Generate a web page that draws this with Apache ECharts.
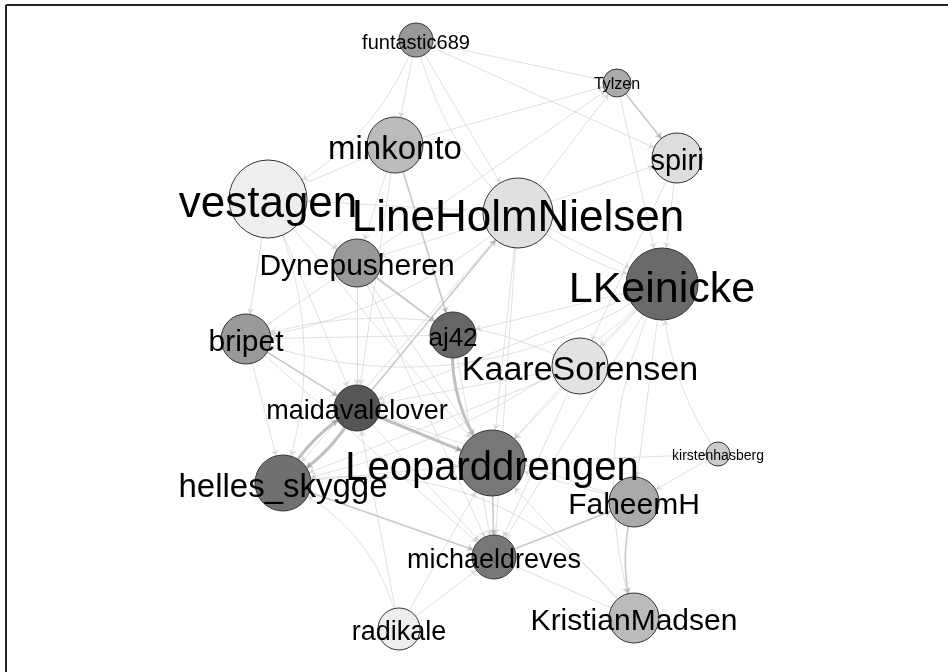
<!DOCTYPE html>
<html>
<head>
<meta charset="utf-8">
<script src="https://cdn.jsdelivr.net/npm/echarts@6/dist/echarts.min.js"></script>
<style>
  html, body { margin: 0; padding: 0; background: #fff; }
  #chartdiv { width: 948px; height: 672px; }
</style>
</head>
<body>
<div id="chartdiv"></div>
<script>
// node table: position in the layout, degree (size) and tone (0 light .. 1 dark)
var nodeNames = ['funtastic689', 'Tylzen', 'minkonto', 'spiri', 'vestagen', 'LineHolmNielsen',
    'Dynepusheren', 'LKeinicke', 'bripet', 'aj42', 'KaareSorensen', 'maidavalelover',
    'Leoparddrengen', 'helles_skygge', 'kirstenhasberg', 'FaheemH', 'michaeldreves',
    'radikale', 'KristianMadsen'];
var nodeX = [416, 617, 395, 677, 268, 518, 357, 662, 246, 453, 580, 357, 492, 283, 718, 634, 494, 399, 634];
var nodeY = [40, 83, 145, 158, 199, 213, 263, 284, 339, 335, 366, 408, 463, 483, 454, 502, 557, 629, 618];
var nodeDegree = [17, 14, 28, 25, 39, 35, 24, 36, 25, 23, 28, 23, 33, 28, 12, 25, 22, 21, 25];
var nodeTone = [0.46, 0.375, 0.29, 0.12, 0.035, 0.105, 0.46, 0.695, 0.46, 0.715, 0.095, 0.8, 0.63, 0.665, 0.205, 0.375, 0.63, 0.035, 0.29];
var labelSize = [20, 16, 33, 29, 44, 44, 30, 43, 30, 26, 34, 27, 40, 33, 14, 30, 27, 27, 30];

// edges: [source, target, weight]
var edges = [
    ['maidavalelover', 'helles_skygge', 3],
    ['helles_skygge', 'maidavalelover', 3],
    ['maidavalelover', 'Leoparddrengen', 3],
    ['aj42', 'Leoparddrengen', 3],
    ['Dynepusheren', 'aj42', 2],
    ['minkonto', 'aj42', 2],
    ['maidavalelover', 'LineHolmNielsen', 2],
    ['bripet', 'maidavalelover', 2],
    ['helles_skygge', 'michaeldreves', 2],
    ['Leoparddrengen', 'michaeldreves', 2],
    ['FaheemH', 'KristianMadsen', 2],
    ['Tylzen', 'spiri', 2],
    ['michaeldreves', 'FaheemH', 2],
    ['radikale', 'michaeldreves', 1],
    ['LKeinicke', 'maidavalelover', 1],
    ['LKeinicke', 'bripet', 1],
    ['LKeinicke', 'KaareSorensen', 1],
    ['LKeinicke', 'michaeldreves', 1],
    ['LKeinicke', 'Leoparddrengen', 1],
    ['LKeinicke', 'KristianMadsen', 1],
    ['LKeinicke', 'FaheemH', 1],
    ['LKeinicke', 'helles_skygge', 1],
    ['LKeinicke', 'aj42', 1],
    ['vestagen', 'Dynepusheren', 1],
    ['vestagen', 'minkonto', 1],
    ['funtastic689', 'vestagen', 1],
    ['vestagen', 'maidavalelover', 1],
    ['vestagen', 'Leoparddrengen', 1],
    ['vestagen', 'bripet', 1],
    ['vestagen', 'helles_skygge', 1],
    ['vestagen', 'aj42', 1],
    ['LineHolmNielsen', 'spiri', 1],
    ['LineHolmNielsen', 'Tylzen', 1],
    ['LineHolmNielsen', 'Leoparddrengen', 1],
    ['LineHolmNielsen', 'vestagen', 1],
    ['LineHolmNielsen', 'Dynepusheren', 1],
    ['LineHolmNielsen', 'LKeinicke', 1],
    ['LineHolmNielsen', 'helles_skygge', 1],
    ['LineHolmNielsen', 'michaeldreves', 1],
    ['LineHolmNielsen', 'bripet', 1],
    ['Tylzen', 'funtastic689', 1],
    ['minkonto', 'Tylzen', 1],
    ['Dynepusheren', 'Tylzen', 1],
    ['Tylzen', 'LKeinicke', 1],
    ['spiri', 'LKeinicke', 1],
    ['spiri', 'KaareSorensen', 1],
    ['funtastic689', 'minkonto', 1],
    ['funtastic689', 'LineHolmNielsen', 1],
    ['funtastic689', 'LKeinicke', 1],
    ['funtastic689', 'spiri', 1],
    ['radikale', 'helles_skygge', 1],
    ['radikale', 'maidavalelover', 1],
    ['radikale', 'Leoparddrengen', 1],
    ['kirstenhasberg', 'LKeinicke', 1],
    ['kirstenhasberg', 'FaheemH', 1],
    ['Leoparddrengen', 'kirstenhasberg', 1],
    ['bripet', 'helles_skygge', 1],
    ['bripet', 'Dynepusheren', 1],
    ['bripet', 'michaeldreves', 1],
    ['KaareSorensen', 'maidavalelover', 1],
    ['KaareSorensen', 'michaeldreves', 1],
    ['KaareSorensen', 'helles_skygge', 1],
    ['KaareSorensen', 'Leoparddrengen', 1],
    ['KaareSorensen', 'bripet', 1],
    ['KristianMadsen', 'Leoparddrengen', 1],
    ['KristianMadsen', 'michaeldreves', 1],
    ['KristianMadsen', 'helles_skygge', 1],
    ['FaheemH', 'Leoparddrengen', 1],
    ['FaheemH', 'maidavalelover', 1],
    ['Dynepusheren', 'maidavalelover', 1],
    ['Dynepusheren', 'Leoparddrengen', 1],
    ['Dynepusheren', 'michaeldreves', 1],
    ['minkonto', 'Dynepusheren', 1],
    ['minkonto', 'maidavalelover', 1],
    ['aj42', 'michaeldreves', 1],
    ['aj42', 'bripet', 1],
    ['maidavalelover', 'michaeldreves', 1],
    ['helles_skygge', 'Leoparddrengen', 1]
];

// edges drawn as arcs
var curved = {
    'maidavalelover>helles_skygge': 0.15,
    'helles_skygge>maidavalelover': 0.15,
    'aj42>Leoparddrengen': -0.2,
    'LKeinicke>bripet': 0.25,
    'LKeinicke>KristianMadsen': -0.2,
    'funtastic689>vestagen': 0.2,
    'funtastic689>LKeinicke': -0.3,
    'radikale>helles_skygge': -0.25,
    'KristianMadsen>helles_skygge': -0.3,
    'LKeinicke>helles_skygge': 0.15,
    'KaareSorensen>bripet': -0.2,
    'vestagen>helles_skygge': 0.2,
    'LineHolmNielsen>bripet': 0.15,
    'kirstenhasberg>LKeinicke': 0.15,
    'FaheemH>KristianMadsen': -0.15
};

function grey(t) {
    var v = Math.round(245 - t * 200);
    return 'rgb(' + v + ',' + v + ',' + v + ')';
}

var nodes = nodeNames.map(function(n, i) {
    return {
        name: n,
        value: [nodeX[i], nodeY[i]],
        symbolSize: nodeDegree[i] * 2,
        itemStyle: { color: grey(nodeTone[i]) },
        label: { fontSize: labelSize[i], offset: [0, Math.round(labelSize[i] * 0.14)] }
    };
});

var links = edges.map(function(e) {
    var w = e[2];
    return {
        source: e[0],
        target: e[1],
        lineStyle: {
            width: w === 3 ? 3 : (w === 2 ? 1.6 : 1),
            color: w === 3 ? '#808080' : (w === 2 ? '#939393' : '#c4c4c4'),
            curveness: curved[e[0] + '>' + e[1]] || 0
        }
    };
});

var options = {
    animation: false,
    grid: { left: 0, right: 0, top: 0, bottom: 0 },
    xAxis: { type: 'value', min: 0, max: 948, show: false },
    yAxis: { type: 'value', min: 0, max: 672, inverse: true, show: false },
    graphic: [
        { type: 'line', shape: { x1: 6, y1: 5, x2: 948, y2: 5 }, style: { stroke: '#222', lineWidth: 2 } },
        { type: 'line', shape: { x1: 6, y1: 5, x2: 6, y2: 672 }, style: { stroke: '#222', lineWidth: 2 } }
    ],
    series: [{
        type: 'graph',
        coordinateSystem: 'cartesian2d',
        symbol: 'circle',
        edgeSymbol: ['none', 'arrow'],
        edgeSymbolSize: [0, 6],
        itemStyle: { borderColor: '#333', borderWidth: 1 },
        label: {
            show: true,
            position: 'inside',
            color: '#000',
            fontFamily: 'Liberation Sans, Arial, sans-serif'
        },
        emphasis: { disabled: true },
        data: nodes,
        links: links
    }]
};

var chartDom = document.getElementById('chartdiv');
var plot = echarts.init(chartDom);
options && plot.setOption(options);
</script>
</body>
</html>
